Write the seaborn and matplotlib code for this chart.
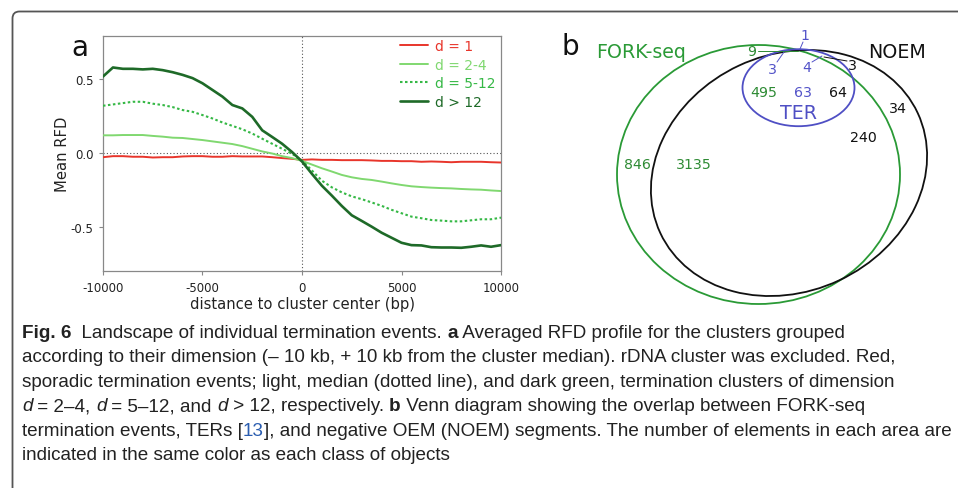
import matplotlib
matplotlib.use("Agg")
import matplotlib.pyplot as plt
from matplotlib.patches import Ellipse, FancyBboxPatch
from matplotlib.transforms import IdentityTransform
import pandas as pd
import seaborn as sns

W, H = 958, 489

distance = list(range(-10000, 10001, 500))
rfd_d1 = [-0.030, -0.023, -0.023, -0.027, -0.027, -0.032, -0.030, -0.030, -0.025, -0.023,
          -0.023, -0.027, -0.027, -0.023, -0.025, -0.025, -0.025, -0.030, -0.036, -0.041,
          -0.048, -0.045, -0.048, -0.048, -0.050, -0.050, -0.050, -0.052, -0.055, -0.055,
          -0.057, -0.057, -0.061, -0.059, -0.061, -0.064, -0.061, -0.061, -0.061, -0.064, -0.066]
rfd_d2_4 = [0.118, 0.118, 0.120, 0.120, 0.120, 0.114, 0.109, 0.102, 0.100, 0.093,
            0.086, 0.077, 0.068, 0.059, 0.045, 0.027, 0.009, -0.005, -0.023, -0.036,
            -0.055, -0.080, -0.105, -0.127, -0.150, -0.166, -0.177, -0.184, -0.195, -0.207,
            -0.218, -0.227, -0.232, -0.236, -0.239, -0.241, -0.245, -0.248, -0.250, -0.255, -0.259]
rfd_d5_12 = [0.318, 0.327, 0.336, 0.345, 0.345, 0.332, 0.323, 0.309, 0.289, 0.277,
             0.255, 0.232, 0.205, 0.182, 0.159, 0.130, 0.095, 0.061, 0.027, -0.007,
             -0.052, -0.120, -0.189, -0.234, -0.268, -0.295, -0.314, -0.336, -0.359, -0.386,
             -0.409, -0.432, -0.443, -0.455, -0.459, -0.464, -0.464, -0.457, -0.450, -0.450, -0.439]
rfd_d12 = [0.516, 0.577, 0.568, 0.568, 0.564, 0.568, 0.559, 0.545, 0.527, 0.505,
           0.470, 0.425, 0.380, 0.323, 0.300, 0.243, 0.152, 0.107, 0.061, 0.005,
           -0.059, -0.143, -0.223, -0.290, -0.360, -0.423, -0.461, -0.500, -0.541, -0.575,
           -0.609, -0.625, -0.627, -0.639, -0.641, -0.641, -0.643, -0.636, -0.627, -0.636, -0.625]
groups = ["d = 1", "d = 2-4", "d = 5-12", "d > 12"]
group_colors = ["#e8352b", "#80d870", "#35b845", "#1e6a28"]

# panel b: venn counts
venn_sets = ["FORK-seq", "NOEM", "TER"]
venn_counts = ["846", "3135", "495", "9", "1", "3", "4", "63", "3", "64", "34", "240"]
venn_owner = ["FORK-seq", "FORK-seq", "FORK-seq", "FORK-seq", "TER", "TER", "TER", "TER",
              "NOEM", "NOEM", "NOEM", "NOEM"]

caption = [
    [("Fig. 6", "bold"), ("  Landscape of individual termination events. ", "normal"), ("a", "bold"),
     (" Averaged RFD profile for the clusters grouped", "normal")],
    [("according to their dimension (\u2013 10 kb, + 10 kb from the cluster median). rDNA cluster was excluded. Red,", "normal")],
    [("sporadic termination events; light, median (dotted line), and dark green, termination clusters of dimension", "normal")],
    [("d", "italic"), (" = 2\u20134, ", "normal"), ("d", "italic"), (" = 5\u201312, and ", "normal"), ("d", "italic"),
     (" > 12, respectively. ", "normal"), ("b", "bold"), (" Venn diagram showing the overlap between FORK-seq", "normal")],
    [("termination events, TERs [", "normal"), ("13", "link"),
     ("], and negative OEM (NOEM) segments. The number of elements in each area are", "normal")],
    [("indicated in the same color as each class of objects", "normal")],
]

sns.set_theme(style="ticks")
plt.rcParams["font.family"] = ["DejaVu Sans"]
plt.rcParams["axes.unicode_minus"] = False

fig = plt.figure(figsize=(W / 100, H / 100), dpi=100)

# outer frame with rounded corner
frame = FancyBboxPatch((12.5, -60), 1100, H - 12.5 + 60, boxstyle="round,pad=0,rounding_size=7",
                       transform=IdentityTransform(), fill=False, ec="#555555", lw=1.3)
fig.add_artist(frame)

# ---- panel a
ax = fig.add_axes([103 / W, 1 - 272 / H, 398 / W, 235 / H])
df = pd.DataFrame({
    "distance": distance * 4,
    "rfd": rfd_d1 + rfd_d2_4 + rfd_d5_12 + rfd_d12,
    "group": [g for g in groups for _ in distance],
})
ax.axhline(0, color="#555555", lw=0.8, ls=(0, (1, 2)), zorder=1)
ax.axvline(0, color="#555555", lw=0.8, ls=(0, (1, 2)), zorder=1)
sns.lineplot(data=df, x="distance", y="rfd", hue="group", style="group", size="group",
             hue_order=groups, style_order=groups, size_order=groups, palette=group_colors,
             dashes={"d = 1": "", "d = 2-4": "", "d = 5-12": (1.2, 1.2), "d > 12": ""},
             sizes={"d = 1": 1.4, "d = 2-4": 1.4, "d = 5-12": 1.5, "d > 12": 1.9},
             ax=ax, zorder=3)
ax.set_xlim(-10000, 10000)
ax.set_ylim(-0.80, 0.79)
ax.set_xticks([-10000, -5000, 0, 5000, 10000])
ax.set_yticks([-0.5, 0.0, 0.5])
ax.set_yticklabels(["-0.5", "0.0", "0.5"])
for s in ax.spines.values():
    s.set_color("#888888")
    s.set_linewidth(0.9)
ax.tick_params(direction="out", length=3, width=0.8, color="#888888", labelsize=8.5,
               labelcolor="#222222", pad=4)
ax.set_xlabel("distance to cluster center (bp)", fontsize=10.6, color="#222222", labelpad=1.5)
ax.set_ylabel("Mean RFD", fontsize=10.6, color="#222222", labelpad=0.5)
handles, labels = ax.get_legend_handles_labels()
leg = ax.legend(handles, labels, loc="upper right", bbox_to_anchor=(1.0, 1.01), borderaxespad=0,
                frameon=False, fontsize=10, handlelength=2.0, handletextpad=0.5, labelspacing=0.32)
for txt, c in zip(leg.get_texts(), group_colors):
    txt.set_color(c)
fig.text(80 / W, 1 - 48 / H, "a", fontsize=20, ha="center", va="center", color="#111111")

# ---- panel b
axb = fig.add_axes([520 / W, 1 - 310 / H, 438 / W, 310 / H])
axb.set_xlim(520, 958)
axb.set_ylim(310, 0)
axb.axis("off")
set_colors = {"FORK-seq": "#2a9a36", "NOEM": "#111111", "TER": "#4f4fc4"}
num_colors = {"FORK-seq": "#2e8b34", "NOEM": "#111111", "TER": "#5252c8"}
ellipses = {"FORK-seq": ((758.5, 175.5), 283, 259, 0),
            "NOEM": ((789, 174), 284, 237, -25),
            "TER": ((798.5, 88.7), 112, 77, 0)}
for name in venn_sets:
    c, w, h, a = ellipses[name]
    axb.add_patch(Ellipse(c, w, h, angle=a, fill=False, ec=set_colors[name], lw=1.3))
set_label_pos = {"FORK-seq": (641, 53), "NOEM": (897, 53), "TER": (798, 114)}
for name in venn_sets:
    axb.text(*set_label_pos[name], name, fontsize=13.7, color=set_colors[name], ha="center", va="center")
count_pos = [(637, 165), (694, 165), (764, 93), (752, 52), (805, 36), (772, 70), (807, 68),
             (803, 93), (852, 66), (838, 93), (898, 109), (863, 138)]
for label, owner, (x, y) in zip(venn_counts, venn_owner, count_pos):
    axb.text(x, y, label, fontsize=10.2, color=num_colors[owner], ha="center", va="center")
leaders = [((803, 43), (800, 50), "TER"), ((758, 52), (798, 52), "FORK-seq"),
           ((777, 63), (784, 53), "TER"), ((812, 63), (822, 57), "TER"),
           ((847, 62), (824, 58), "NOEM")]
for (x0, y0), (x1, y1), owner in leaders:
    axb.plot([x0, x1], [y0, y1], color=num_colors[owner], lw=0.7)
fig.text(570 / W, 1 - 47 / H, "b", fontsize=20, ha="center", va="center", color="#111111")

# ---- caption
cap = fig.add_axes([0, 0, 1, 1])
cap.axis("off")
cap_family = ["Liberation Sans Narrow", "Liberation Sans", "DejaVu Sans"]
styles = {"normal": dict(), "bold": dict(fontweight="bold"), "italic": dict(fontstyle="italic"),
          "link": dict(color="#2a5db0")}
baselines = [338, 362.5, 387, 411.5, 436, 460.5]
cap_texts = []
line_parts = []
for line, yb in zip(caption, baselines):
    prev = None
    parts = []
    for seg, st in line:
        kw = dict(fontsize=14, family=cap_family, color="#222222")
        kw.update(styles[st])
        if prev is None:
            t = cap.text(22 / W, 1 - yb / H, seg, ha="left", va="baseline", transform=cap.transAxes, **kw)
        else:
            t = cap.annotate(seg, xy=(1, 0), xycoords=prev, ha="left", va="bottom", **kw)
        prev = t
        parts.append(t)
        cap_texts.append(t)
    line_parts.append(parts)

# fit the longest caption line to the width it has in the figure
for _ in range(2):
    fig.canvas.draw()
    r = fig.canvas.get_renderer()
    x_end = line_parts[4][-1].get_window_extent(r).x1
    scale = (955 - 22) / (x_end - 22)
    for t in cap_texts:
        t.set_fontsize(t.get_fontsize() * scale)

fig.savefig("out.png", dpi=100)
